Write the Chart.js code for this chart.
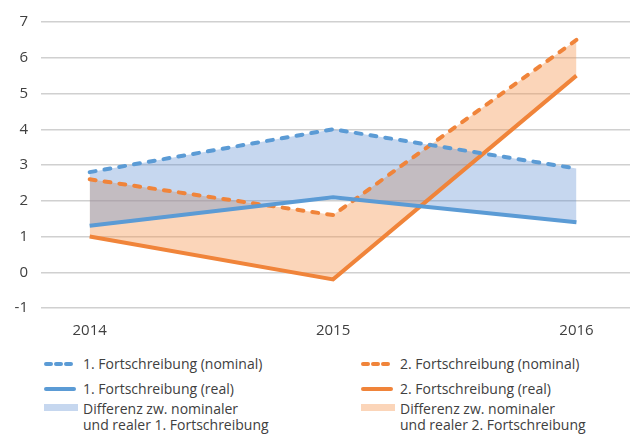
<!DOCTYPE html>
<html>
<head>
<style>
  body { margin: 0; background: #fff; font-family: "Open Sans", sans-serif; color: #404040; }
  #wrap { position: relative; width: 636px; height: 435px; }
  #chart { position: absolute; left: 0; top: 0; }
  .item { position: absolute; font-size: 14px; line-height: 16px; white-space: nowrap; }
  .item svg { position: absolute; }
</style>
</head>
<body>
<div id="wrap">
  <canvas id="chart" width="636" height="340"></canvas>
  <div id="legend"></div>
</div>
<script src="https://cdn.jsdelivr.net/npm/chart.js@4/dist/chart.umd.min.js"></script>
<script>
const years = [2014, 2015, 2016];
const nominal1 = [2.8, 4.0, 2.9];
const real1 = [1.3, 2.1, 1.4];
const nominal2 = [2.6, 1.6, 6.5];
const real2 = [1.0, -0.2, 5.5];
const yTicks = [-1, 0, 1, 2, 3, 4, 5, 6, 7];
const names = [
  '1. Fortschreibung (nominal)',
  '1. Fortschreibung (real)',
  '2. Fortschreibung (nominal)',
  '2. Fortschreibung (real)',
  'Differenz zw. nominaler\nund realer 1. Fortschreibung',
  'Differenz zw. nominaler\nund realer 2. Fortschreibung'
];

const blue = '#5B9BD5';
const orange = '#F0843A';
const blueFill = 'rgba(91,140,210,0.35)';
const orangeFill = 'rgba(244,150,80,0.4)';

function pts(vals) {
  return years.map((y, i) => ({ x: y, y: vals[i] }));
}

function lineSet(label, vals, color, dashed, fill, fillColor) {
  return {
    label: label,
    data: pts(vals),
    borderColor: color,
    borderWidth: 4,
    borderDash: dashed ? [6, 9] : [],
    borderCapStyle: dashed ? 'round' : 'butt',
    borderJoinStyle: 'miter',
    pointRadius: 0,
    tension: 0,
    fill: fill,
    backgroundColor: fillColor || 'transparent'
  };
}

new Chart('chart', {
  type: 'line',
  data: {
    datasets: [
      lineSet(names[0], nominal1, blue, true, 1, blueFill),
      lineSet(names[1], real1, blue, false, false),
      lineSet(names[2], nominal2, orange, true, 3, orangeFill),
      lineSet(names[3], real2, orange, false, false)
    ]
  },
  options: {
    responsive: false,
    animation: false,
    layout: { padding: { top: 18, right: 6, left: 0, bottom: 0 } },
    plugins: {
      legend: { display: false },
      tooltip: { enabled: false },
      filler: { drawTime: 'beforeDatasetsDraw' }
    },
    scales: {
      x: {
        type: 'linear',
        min: 2013.8,
        max: 2016.22,
        afterBuildTicks: s => { s.ticks = years.map(v => ({ value: v })); },
        afterFit: s => { s.height = 32; },
        grid: { display: false },
        border: { display: false },
        ticks: {
          padding: 6,
          color: '#404040',
          font: { family: 'Open Sans', size: 15 },
          callback: v => String(v)
        }
      },
      y: {
        min: -1,
        max: 7,
        afterBuildTicks: s => { s.ticks = yTicks.map(v => ({ value: v })); },
        afterFit: s => { s.width = 41; },
        grid: { color: '#d0d0d0', lineWidth: 1.5, drawTicks: false },
        border: { display: false },
        ticks: {
          padding: 13,
          color: '#404040',
          font: { family: 'Open Sans', size: 15 }
        }
      }
    }
  }
});

// legend below the chart, two columns like the original
const legend = document.getElementById('legend');
const legendRows = [
  { name: names[0], x: 44, y: 364, kind: 'dash', color: blue },
  { name: names[1], x: 44, y: 389, kind: 'line', color: blue },
  { name: names[4], x: 44, y: 409, kind: 'box', color: blueFill },
  { name: names[2], x: 361, y: 364, kind: 'dash', color: orange },
  { name: names[3], x: 361, y: 389, kind: 'line', color: orange },
  { name: names[5], x: 361, y: 409, kind: 'box', color: orangeFill }
];
legendRows.forEach(r => {
  const d = document.createElement('div');
  d.className = 'item';
  d.style.left = (r.x + 39) + 'px';
  d.style.top = (r.y - 8) + 'px';
  r.name.split('\n').forEach((t, i) => {
    if (i) d.appendChild(document.createElement('br'));
    d.appendChild(document.createTextNode(t));
  });
  let svg;
  if (r.kind === 'box') {
    svg = '<svg width="34" height="7" style="left:-39px;top:3px"><rect x="0" y="0" width="34" height="7" fill="' + r.color + '"/></svg>';
  } else {
    const dash = r.kind === 'dash' ? ' stroke-dasharray="5 5"' : '';
    svg = '<svg width="34" height="8" style="left:-39px;top:4px"><line x1="2" y1="4" x2="30" y2="4" stroke="' + r.color + '" stroke-width="4" stroke-linecap="round"' + dash + '/></svg>';
  }
  d.insertAdjacentHTML('afterbegin', svg);
  legend.appendChild(d);
});
</script>
</body>
</html>
